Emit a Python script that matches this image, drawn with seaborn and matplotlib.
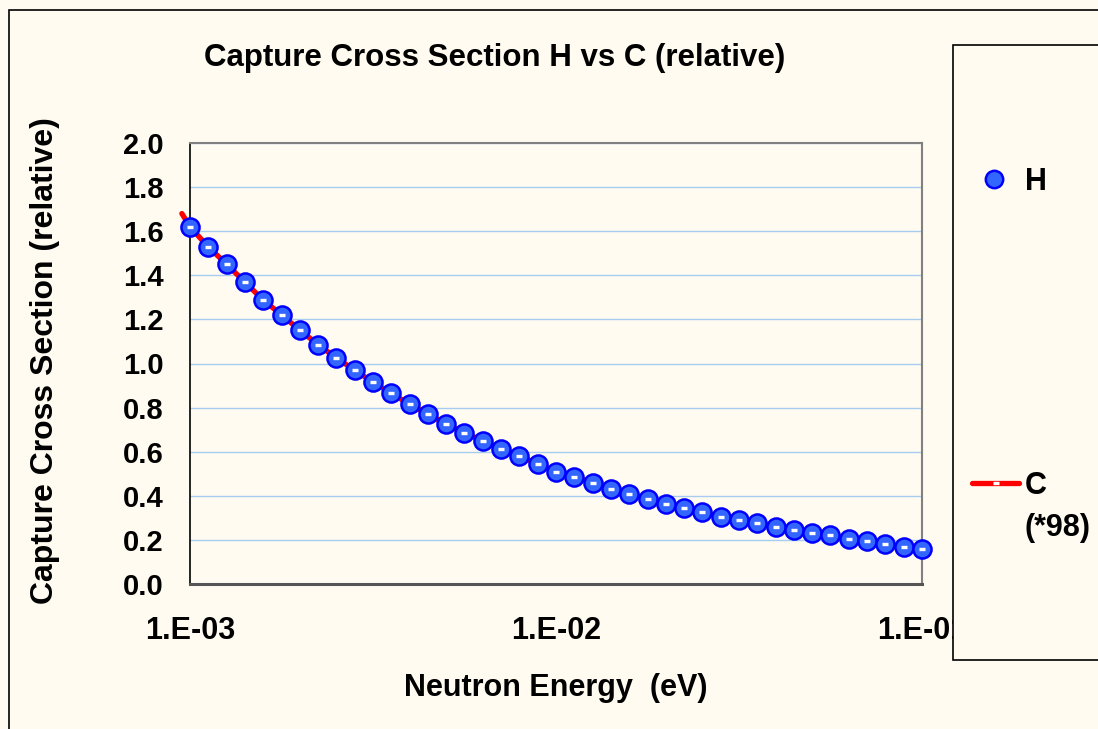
import pandas as pd
import matplotlib
matplotlib.use("Agg")
import matplotlib.pyplot as plt
import seaborn as sns
from matplotlib.lines import Line2D
from matplotlib.patches import Rectangle

# ==============================
# DATA
# ==============================
energy = [1.00e-03, 1.12e-03, 1.26e-03, 1.41e-03, 1.58e-03, 1.78e-03, 2.00e-03,
          2.24e-03, 2.51e-03, 2.82e-03, 3.16e-03, 3.55e-03, 3.98e-03, 4.47e-03,
          5.01e-03, 5.62e-03, 6.31e-03, 7.08e-03, 7.94e-03, 8.91e-03, 1.00e-02,
          1.12e-02, 1.26e-02, 1.41e-02, 1.58e-02, 1.78e-02, 2.00e-02, 2.24e-02,
          2.51e-02, 2.82e-02, 3.16e-02, 3.55e-02, 3.98e-02, 4.47e-02, 5.01e-02,
          5.62e-02, 6.31e-02, 7.08e-02, 7.94e-02, 8.91e-02, 1.00e-01]
h_sigma = [1.62, 1.53, 1.45, 1.37, 1.29, 1.22, 1.15, 1.085, 1.025, 0.97,
           0.915, 0.865, 0.815, 0.77, 0.725, 0.685, 0.65, 0.61, 0.58, 0.545,
           0.51, 0.485, 0.46, 0.43, 0.41, 0.385, 0.365, 0.345, 0.325, 0.305,
           0.29, 0.275, 0.26, 0.245, 0.23, 0.22, 0.205, 0.195, 0.18, 0.17, 0.16]
# C (*98) follows H, starting slightly below 1 meV
c_energy = [9.5e-04] + energy
c_sigma = [1.68] + h_sigma

x_ticks = [1e-3, 1e-2, 1e-1]
x_tick_labels = ["1.E-03", "1.E-02", "1.E-01"]
y_ticks = [0.0, 0.2, 0.4, 0.6, 0.8, 1.0, 1.2, 1.4, 1.6, 1.8, 2.0]

df_h = pd.DataFrame({"E": energy, "sigma": h_sigma})
df_c = pd.DataFrame({"E": c_energy, "sigma": c_sigma})

# ==============================
# STYLE
# ==============================
bg = "#FFFBF0"
sns.set_style("white")
plt.rcParams["font.family"] = ["Liberation Sans", "DejaVu Sans"]
plt.rcParams["font.weight"] = "bold"
plt.rcParams["text.color"] = "black"
plt.rcParams["xtick.color"] = "black"
plt.rcParams["ytick.color"] = "black"

fig = plt.figure(figsize=(10.98, 7.29), dpi=100, facecolor=bg)
ax = fig.add_axes([190 / 1098, 1 - 584 / 729, (922 - 190) / 1098, (584 - 143) / 729])
ax.set_facecolor(bg)

# ==============================
# PLOT
# ==============================
sns.lineplot(data=df_c, x="E", y="sigma", ax=ax, color="#FF0000", lw=3.8,
             zorder=2, clip_on=False, legend=False)
sns.scatterplot(data=df_h, x="E", y="sigma", ax=ax, s=170, color="#3366FF",
                edgecolor="#0000FF", linewidth=1.8, zorder=3, clip_on=False,
                legend=False)
# little white markers of the C series sitting on top
ax.plot(df_h["E"], df_h["sigma"], ls="none", marker="_", ms=5, mew=2.4,
        color="white", zorder=4, clip_on=False)

ax.set_xscale("log")
ax.set_xlim(1e-3, 1e-1)
ax.set_ylim(0, 2.0)
ax.set_xticks(x_ticks)
ax.set_xticklabels(x_tick_labels)
ax.xaxis.set_minor_locator(matplotlib.ticker.NullLocator())
ax.set_yticks(y_ticks)
ax.set_yticklabels([f"{v:.1f}" for v in y_ticks])
ax.tick_params(axis="y", labelsize=21, length=6, width=1, direction="out", pad=13)
ax.tick_params(axis="x", labelsize=22, length=6, width=1, direction="out", pad=17)

ax.yaxis.grid(True, color="#A8CCF0", lw=1)
ax.xaxis.grid(False)
ax.set_axisbelow(True)
for side in ["top", "right"]:
    ax.spines[side].set_color("#808080")
    ax.spines[side].set_linewidth(1.5)
ax.spines["left"].set_color("black")
ax.spines["left"].set_linewidth(1.2)
ax.spines["bottom"].set_color("#555555")
ax.spines["bottom"].set_linewidth(2.2)

ax.set_xlabel("")
ax.set_ylabel("")
fig.text(556 / 1098, 1 - 688 / 729, "Neutron Energy  (eV)", ha="center",
         va="center", fontsize=22, fontweight="bold")
fig.text(45 / 1098, 1 - 361 / 729, "Capture Cross Section (relative)",
         ha="center", va="center", rotation=90, fontsize=23, fontweight="bold")
fig.text(495 / 1098, 1 - 58 / 729, "Capture Cross Section H vs C (relative)",
         ha="center", va="center", fontsize=22.5, fontweight="bold")

# outer chart frame
fig.add_artist(Rectangle((9 / 1098, -0.1), 1.2, 1.1 - 10 / 729,
                         transform=fig.transFigure, fill=False,
                         edgecolor="black", lw=1.2, zorder=0))

# legend box
fig.add_artist(Rectangle((953 / 1098, 1 - 660 / 729), 0.3, (660 - 45) / 729,
                         transform=fig.transFigure, facecolor=bg,
                         edgecolor="black", lw=1.2, zorder=5))
h_handle = Line2D([], [], ls="none", marker="o", ms=12.5, mfc="#3366FF",
                  mec="#0000FF", mew=1.8)
c_handle = Line2D([], [], color="#FF0000", lw=3.8, marker="_", ms=5, mew=2.4,
                  mec="white", solid_capstyle="round")
leg_h = fig.legend([h_handle], ["H"], loc="center left",
                   bbox_to_anchor=(979 / 1098, 1 - 182 / 729), frameon=False,
                   prop={"size": 22, "weight": "bold"}, handlelength=1.0,
                   handletextpad=0.5, borderpad=0, borderaxespad=0)
leg_h.set_zorder(6)
leg_c = fig.legend([c_handle], ["C"], loc="center left",
                   bbox_to_anchor=(972 / 1098, 1 - 486 / 729), frameon=False,
                   prop={"size": 22, "weight": "bold"}, handlelength=1.55,
                   handletextpad=0.16, borderpad=0, borderaxespad=0)
leg_c.set_zorder(6)
fig.text(1024 / 1098, 1 - 528 / 729, "(*98)", ha="left", va="center",
         fontsize=22, fontweight="bold", zorder=7)

plt.savefig("out.png", dpi=100, facecolor=bg)
plt.close()
